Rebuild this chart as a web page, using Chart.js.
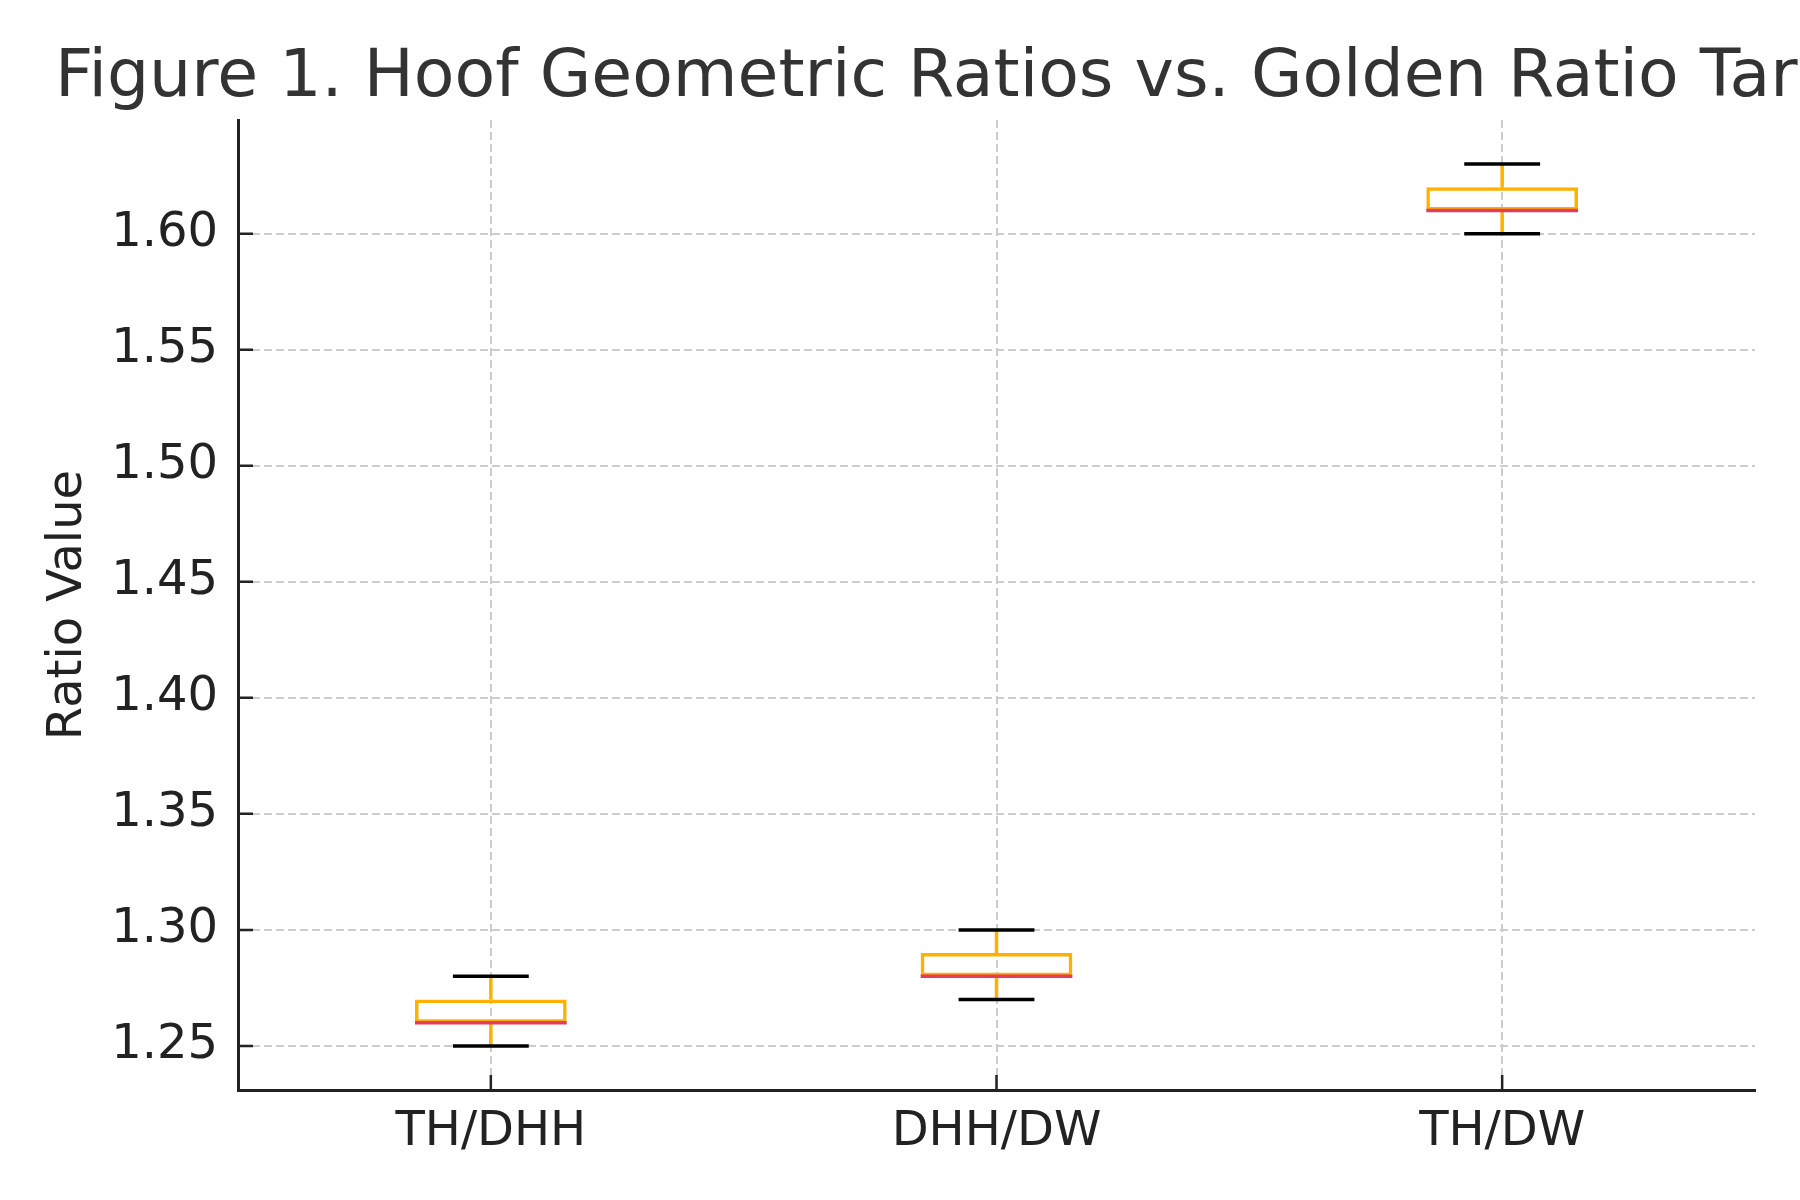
<!DOCTYPE html>
<html>
<head>
<meta charset="utf-8">
<script src="https://cdn.jsdelivr.net/npm/chart.js@4.4.1/dist/chart.umd.min.js"></script>
<style>
  html, body { margin: 0; padding: 0; background: #fff; }
  #wrap { width: 1800px; height: 1200px; }
</style>
</head>
<body>
<div id="wrap"><canvas id="boxChart" width="1800" height="1200"></canvas></div>
<script>
// data
const categories = ['TH/DHH', 'DHH/DW', 'TH/DW'];
const whiskerLow = [1.25, 1.27, 1.60];
const q1 = [1.26, 1.28, 1.61];
const medians = [1.26, 1.28, 1.61];
const q3 = [1.27, 1.29, 1.62];
const whiskerHigh = [1.28, 1.30, 1.63];
const yTicks = [1.25, 1.30, 1.35, 1.40, 1.45, 1.50, 1.55, 1.60];
const chartTitle = 'Figure 1. Hoof Geometric Ratios vs. Golden Ratio Target';

const ORANGE = '#FFB000';
const MEDIAN_RED = '#E43D5B';
const INK = '#222222';
const LW = 3.5;

// whiskers, caps, median, inward ticks and the (clipped) title
const boxExtras = {
  id: 'boxExtras',
  beforeDatasetsDraw(chart) {
    const { ctx, scales: { x, y } } = chart;
    ctx.save();
    ctx.strokeStyle = ORANGE;
    ctx.lineWidth = LW;
    categories.forEach((c, i) => {
      const px = x.getPixelForValue(i);
      ctx.beginPath();
      ctx.moveTo(px, y.getPixelForValue(whiskerLow[i]));
      ctx.lineTo(px, y.getPixelForValue(q1[i]));
      ctx.moveTo(px, y.getPixelForValue(q3[i]));
      ctx.lineTo(px, y.getPixelForValue(whiskerHigh[i]));
      ctx.stroke();
    });
    ctx.restore();
  },
  afterDatasetsDraw(chart) {
    const { ctx, scales: { x, y } } = chart;
    const meta = chart.getDatasetMeta(0);
    ctx.save();
    categories.forEach((c, i) => {
      const px = x.getPixelForValue(i);
      const half = meta.data[i].width / 2;
      // caps
      ctx.strokeStyle = '#000';
      ctx.lineWidth = LW;
      ctx.beginPath();
      [whiskerLow[i], whiskerHigh[i]].forEach(v => {
        const py = y.getPixelForValue(v);
        ctx.moveTo(px - half / 2, py);
        ctx.lineTo(px + half / 2, py);
      });
      ctx.stroke();
      // median
      ctx.strokeStyle = MEDIAN_RED;
      ctx.beginPath();
      const my = y.getPixelForValue(medians[i]);
      ctx.moveTo(px - half, my);
      ctx.lineTo(px + half, my);
      ctx.stroke();
    });
    ctx.restore();
  },
  afterDraw(chart) {
    const { ctx, scales: { x, y } } = chart;
    ctx.save();
    ctx.strokeStyle = INK;
    ctx.lineWidth = 2.5;
    ctx.beginPath();
    y.ticks.forEach(t => {
      const py = y.getPixelForValue(t.value);
      ctx.moveTo(y.right, py);
      ctx.lineTo(y.right + 15, py);
    });
    categories.forEach((c, i) => {
      const px = x.getPixelForValue(i);
      ctx.moveTo(px, x.top);
      ctx.lineTo(px, x.top - 15);
    });
    ctx.stroke();

    ctx.fillStyle = '#333333';
    ctx.font = '66.5px "DejaVu Sans"';
    ctx.textAlign = 'left';
    ctx.textBaseline = 'alphabetic';
    ctx.fillText(chartTitle, 55, 96);
    ctx.restore();
  }
};

new Chart(document.getElementById('boxChart'), {
  type: 'bar',
  data: {
    labels: categories,
    datasets: [{
      label: 'IQR',
      data: q1.map((v, i) => [v, q3[i]]),
      backgroundColor: 'rgba(0,0,0,0)',
      borderColor: ORANGE,
      borderWidth: LW,
      borderSkipped: false,
      categoryPercentage: 1,
      barPercentage: 0.3
    }]
  },
  options: {
    responsive: false,
    devicePixelRatio: 1,
    animation: false,
    layout: { padding: { left: 55, right: 45, top: 120, bottom: 0 } },
    plugins: {
      legend: { display: false },
      tooltip: { enabled: false },
      title: { display: false }
    },
    scales: {
      x: {
        offset: true,
        grid: { offset: false, color: '#cccccc', lineWidth: 2, drawTicks: false },
        border: { color: INK, width: 3, dash: [8, 4] },
        ticks: { color: INK, padding: 14, font: { family: 'DejaVu Sans', size: 48 } },
        afterFit(scale) { scale.height = 110; }
      },
      y: {
        min: 1.231,
        max: 1.649,
        afterBuildTicks(scale) { scale.ticks = yTicks.map(v => ({ value: v })); },
        grid: { color: '#cccccc', lineWidth: 2, drawTicks: false },
        border: { color: INK, width: 3, dash: [8, 4] },
        ticks: {
          color: INK,
          padding: 20,
          font: { family: 'DejaVu Sans', size: 48 },
          callback: v => v.toFixed(2)
        },
        title: {
          display: true,
          text: 'Ratio Value',
          color: INK,
          font: { family: 'DejaVu Sans', size: 48, lineHeight: 1.2 },
          padding: { top: -15, bottom: 0 }
        },
        afterFit(scale) { scale.width = 183; }
      }
    }
  },
  plugins: [boxExtras]
});
</script>
</body>
</html>
